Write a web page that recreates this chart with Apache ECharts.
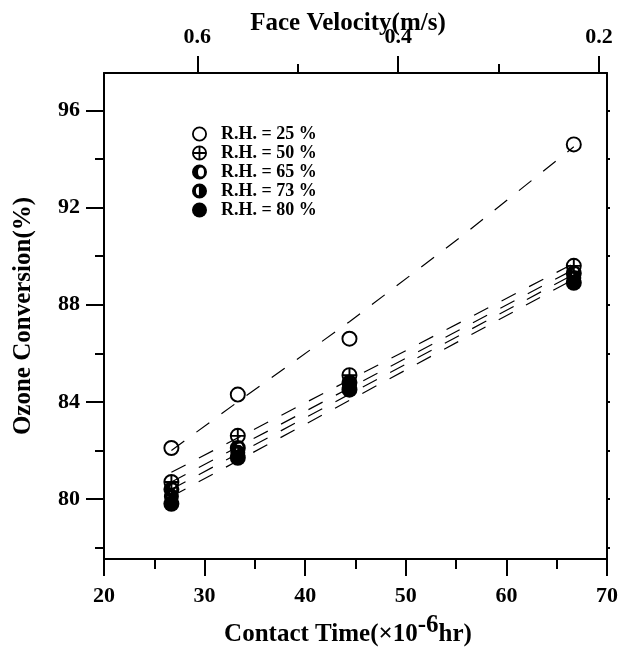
<!DOCTYPE html>
<html>
<head>
<meta charset="utf-8">
<script src="https://cdn.jsdelivr.net/npm/echarts@6/dist/echarts.min.js"></script>
<style>
  html, body { margin: 0; padding: 0; background: #fff; }
  #chart { width: 631px; height: 648px; }
</style>
</head>
<body>
<div id="chart"></div>
<script>
  // measured values
  const contactTime = [26.7, 33.3, 44.4, 66.7];
  const rh25 = [82.1, 84.3, 86.6, 94.6];
  const rh50 = [80.7, 82.6, 85.1, 89.6];
  const rh65 = [80.4, 82.1, 84.8, 89.3];
  const rh73 = [80.1, 81.9, 84.7, 89.1];
  const rh80 = [79.8, 81.7, 84.5, 88.9];

  // dashed fit lines
  const fitX25 = [26.7, 33.3, 44.4, 55.5, 66.7];
  const fit25 = [82.0, 84.0, 87.3, 90.8, 94.5];
  const fitX = [26.7, 66.7];
  const fit50 = [81.1, 89.7];
  const fit65 = [80.7, 89.45];
  const fit73 = [80.4, 89.25];
  const fit80 = [80.1, 89.05];

  // ticks
  const xMajor = [20, 30, 40, 50, 60, 70];
  const xMinor = [25, 35, 45, 55, 65];
  const yMajor = [80, 84, 88, 92, 96];
  const yMinor = [78, 82, 86, 90, 94];
  const yRight = [78, 80, 82, 84, 86, 88, 90, 92, 94, 96];
  const vMajor = [0.2, 0.4, 0.6];
  const vMinor = [0.3, 0.5];

  const names = ['R.H. = 25 %', 'R.H. = 50 %', 'R.H. = 65 %', 'R.H. = 73 %', 'R.H. = 80 %'];

  const FONT = 'Liberation Serif, Times New Roman, serif';
  const RING = 'M50,0 A50,50 0 1,1 50,100 A50,50 0 1,1 50,0 Z M50,12 A38,38 0 1,0 50,88 A38,38 0 1,0 50,12 Z';
  const DISK = 'M50,0 A50,50 0 1,1 50,100 A50,50 0 1,1 50,0 Z';
  const symbols = [
    'path://' + RING,
    'path://' + RING + ' M44,4 L56,4 L56,96 L44,96 Z M4,44 L96,44 L96,56 L4,56 Z',
    'path://' + DISK + ' M60,20 A20,30 0 1,0 60,80 A20,30 0 1,0 60,20 Z',
    'path://' + DISK + ' M46,22 A20,28 0 0,0 46,78 Z',
    'path://' + DISK
  ];

  const pairs = (xs, ys) => xs.map((x, i) => [x, ys[i]]);

  const black = { color: '#000', width: 2 };
  const labelFont = { fontFamily: FONT, fontWeight: 'bold', fontSize: 22, color: '#000' };
  const nameFont = { fontFamily: FONT, fontWeight: 'bold', fontSize: 25, color: '#000' };

  const yMin = 77.53, yMax = 97.54;
  const vMin = 0.192, vMax = 0.693;

  const myChart = echarts.init(document.getElementById('chart'));

  const scatterSeries = [rh25, rh50, rh65, rh73, rh80].map((vals, i) => ({
    type: 'scatter',
    name: names[i],
    data: pairs(contactTime, vals),
    symbol: symbols[i],
    symbolSize: i === 3 ? [15, 16] : 16,
    itemStyle: { color: '#000', opacity: 1 },
    z: 5 + i
  }));

  const fits = [[fitX25, fit25], [fitX, fit50], [fitX, fit65], [fitX, fit73], [fitX, fit80]];
  const lineSeries = fits.map((f, i) => ({
    type: 'line',
    name: 'fit' + i,
    data: pairs(f[0], f[1]),
    showSymbol: false,
    symbol: 'none',
    lineStyle: { color: '#000', width: 1.2, type: [16, 15] },
    z: 2
  }));

  myChart.setOption({
    animation: false,
    backgroundColor: '#fff',
    grid: { left: 104, top: 73, width: 503, height: 486, outerBoundsMode: 'none' },
    legend: {
      orient: 'vertical',
      left: 187,
      top: 120,
      itemWidth: 15,
      itemHeight: 15,
      itemGap: 1,
      selectedMode: false,
      data: names,
      textStyle: { fontFamily: FONT, fontWeight: 'bold', fontSize: 18, color: '#000', lineHeight: 18, padding: [0, 0, 0, 9] }
    },
    xAxis: [
      {
        type: 'value', position: 'bottom', min: 20, max: 70,
        axisLine: { show: true, onZero: false, lineStyle: black },
        axisTick: { show: true, customValues: xMajor, length: 17, lineStyle: black },
        axisLabel: { customValues: xMajor, margin: 26, ...labelFont },
        splitLine: { show: false },
        name: '{a|Contact Time(×10}{s|-6}{a|hr)}',
        nameLocation: 'middle',
        nameGap: 54,
        nameMoveOverlap: false,
        nameTextStyle: {
          padding: [0, 15, 0, 0],
          rich: {
            a: { ...nameFont },
            s: { ...nameFont, padding: [0, 0, 18, 0] }
          }
        }
      },
      {
        type: 'value', position: 'bottom', min: 20, max: 70,
        axisLine: { show: false, onZero: false },
        axisTick: { show: true, customValues: xMinor, length: 10, lineStyle: black },
        axisLabel: { show: false },
        splitLine: { show: false }
      },
      {
        type: 'value', position: 'top', min: vMin, max: vMax, inverse: true,
        axisLine: { show: true, onZero: false, lineStyle: black },
        axisTick: { show: true, customValues: vMajor, length: 17, lineStyle: black },
        axisLabel: { customValues: vMajor, margin: 25, formatter: v => v.toFixed(1), ...labelFont },
        splitLine: { show: false },
        name: 'Face Velocity(m/s)',
        nameLocation: 'middle',
        nameGap: 37,
        nameMoveOverlap: false,
        nameTextStyle: { ...nameFont, padding: [0, 15, 0, 0] }
      },
      {
        type: 'value', position: 'top', min: vMin, max: vMax, inverse: true,
        axisLine: { show: false, onZero: false },
        axisTick: { show: true, customValues: vMinor, length: 9, lineStyle: black },
        axisLabel: { show: false },
        splitLine: { show: false }
      }
    ],
    yAxis: [
      {
        type: 'value', position: 'left', min: yMin, max: yMax,
        axisLine: { show: true, onZero: false, lineStyle: black },
        axisTick: { show: true, customValues: yMajor, length: 18, lineStyle: black },
        axisLabel: { customValues: yMajor, margin: 24, ...labelFont },
        splitLine: { show: false },
        name: 'Ozone Conversion(%)',
        nameLocation: 'middle',
        nameGap: 68,
        nameRotate: 90,
        nameMoveOverlap: false,
        nameTextStyle: { ...nameFont }
      },
      {
        type: 'value', position: 'left', min: yMin, max: yMax,
        axisLine: { show: false, onZero: false },
        axisTick: { show: true, customValues: yMinor, length: 9, lineStyle: black },
        axisLabel: { show: false },
        splitLine: { show: false }
      },
      {
        type: 'value', position: 'right', min: yMin, max: yMax,
        axisLine: { show: true, onZero: false, lineStyle: black },
        axisTick: { show: true, customValues: yRight, length: 3, lineStyle: black },
        axisLabel: { show: false },
        splitLine: { show: false }
      }
    ],
    series: [...lineSeries, ...scatterSeries]
  });
</script>
</body>
</html>
